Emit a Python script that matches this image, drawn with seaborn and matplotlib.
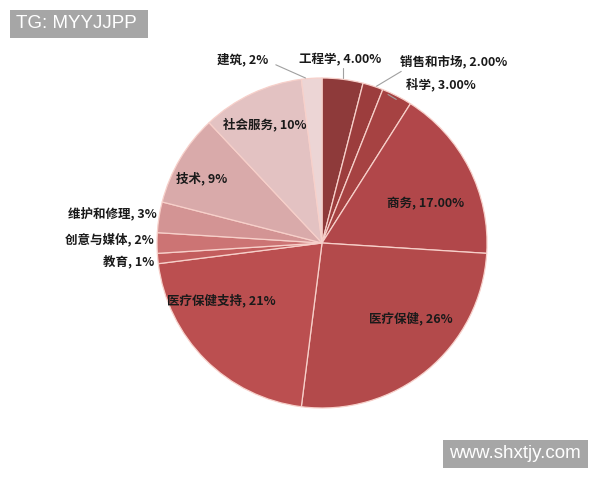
import seaborn as sns
import matplotlib
matplotlib.use('Agg')
import matplotlib.pyplot as plt
from matplotlib.patches import Rectangle

sns.set_theme(style='white')
plt.rcParams['font.family'] = ['Noto Sans CJK SC', 'DejaVu Sans']

# data (clockwise from 12 o'clock)
categories = ['工程学', '销售和市场', '科学', '商务', '医疗保健', '医疗保健支持',
              '教育', '创意与媒体', '维护和修理', '技术', '社会服务', '建筑']
shares = [4, 2, 3, 17, 26, 21, 1, 2, 3, 9, 10, 2]
label_text = ['4.00%', '2.00%', '3.00%', '17.00%', '26%', '21%',
              '1%', '2%', '3%', '9%', '10%', '2%']

colors = sns.color_palette(['#8E3A3A', '#9C3D3D', '#A64242', '#B1474A', '#B34A4B', '#BB4F50',
                            '#C35D5D', '#CC7474', '#D39494', '#D9AAAA', '#E3C2C2', '#ECD5D5'])

# label placement in pie units (radius = 1), leader target if any
label_pos = {
    '工程学': ((0.11, 1.11), (0.13, 1.0)),
    '销售和市场': ((0.8, 1.10), (0.33, 0.95)),
    '科学': ((0.72, 0.96), (0.45, 0.87)),
    '商务': ((0.63, 0.24), None),
    '医疗保健': ((0.54, -0.46), None),
    '医疗保健支持': ((-0.61, -0.35), None),
    '教育': ((-1.17, -0.11), None),
    '创意与媒体': ((-1.29, 0.02), None),
    '维护和修理': ((-1.27, 0.18), None),
    '技术': ((-0.73, 0.39), None),
    '社会服务': ((-0.35, 0.72), None),
    '建筑': ((-0.48, 1.11), (-0.1, 1.0)),
}

fig = plt.figure(figsize=(6, 4.8), dpi=100)
ax = fig.add_axes([0.2617, 0.15, 0.55, 0.6875])
ax.pie(shares, colors=colors, startangle=90, counterclock=False, radius=1,
       wedgeprops={'edgecolor': '#F7D0CA', 'linewidth': 0.9})
ax.set_xlim(-1, 1)
ax.set_ylim(-1, 1)
ax.set_aspect('equal')
ax.axis('off')

for cat, txt in zip(categories, label_text):
    (tx, ty), tgt = label_pos[cat]
    ax.text(tx, ty, f'{cat}, {txt}', ha='center', va='center', fontsize=9,
            fontweight='bold', color='#1A1A1A', clip_on=False)
    if tgt is not None:
        if cat == '建筑':
            start = (tx + 0.2, ty - 0.03)
        elif cat == '工程学':
            start = (0.13, ty - 0.05)
        else:
            start = (tx - 0.32, ty - 0.06)
        ax.plot([start[0], tgt[0]], [start[1], tgt[1]], color='#A0A0A0', lw=0.8, clip_on=False)

# watermarks
for (x0, y0, x1, y1), s in [((10, 10, 148, 38), 'TG: MYYJJPP'),
                            ((443, 440, 588, 468), 'www.shxtjy.com')]:
    fig.patches.append(Rectangle((x0 / 600, 1 - y1 / 480), (x1 - x0) / 600, (y1 - y0) / 480,
                                 transform=fig.transFigure, fc='#A6A6A6', ec='none'))
    fig.text((x0 + 6) / 600, 1 - (y0 + y1) / 960, s, fontsize=13.5, color='white',
             ha='left', va='center', family=['Liberation Sans'])

fig.savefig('out.png', dpi=100, facecolor='white')
